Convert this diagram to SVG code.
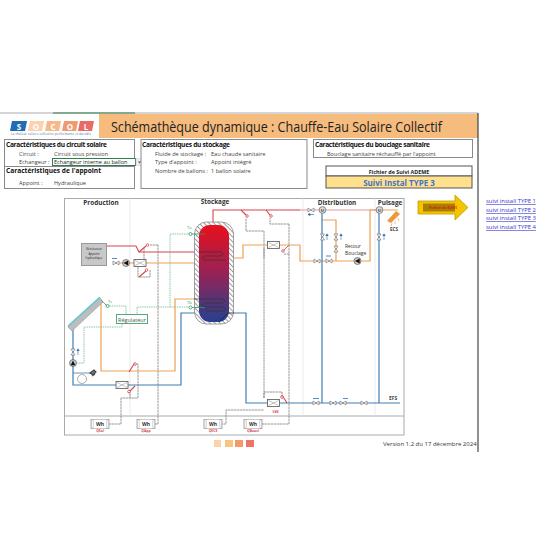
<svg xmlns="http://www.w3.org/2000/svg" width="550" height="560" viewBox="0 0 550 560">
<style>
text{font-family:"Open Sans","Liberation Sans",sans-serif;fill:#222}
.h{font-size:6.6px;font-weight:700;fill:#111}
.t{font-size:5.6px;fill:#444}
.sec{font-size:6.4px;font-weight:700;fill:#333;text-anchor:middle}
.box{fill:#fff;stroke:#8a8a8a;stroke-width:1}
.dash{fill:none;stroke:#808080;stroke-width:.8;stroke-dasharray:2.5 .5}
.sens{fill:none;stroke:#6cbd8d;stroke-width:.8;stroke-dasharray:1.5 .8}
.red{fill:none;stroke:#d9444f;stroke-width:1.1}
.pink{fill:none;stroke:#e39aa0;stroke-width:1.2}
.or{fill:none;stroke:#eba155;stroke-width:1.2}
.blue{fill:none;stroke:#3f7fb5;stroke-width:1.2}
.v{fill:#fff;stroke:#666;stroke-width:.6}
.rv{fill:#fff;stroke:#d9444f;stroke-width:.8}
.lab{font-size:3.4px;font-weight:700;fill:#d9444f;text-anchor:middle}
.wh{font-size:5px;font-weight:700;fill:#333;text-anchor:middle}
.link{font-size:5.9px;fill:#3333cc;text-decoration:underline}
.logo{font-size:8px;font-weight:700;text-anchor:middle;fill:#fff}
</style>
<defs>
<linearGradient id="tank" x1="0" y1="0" x2="0" y2="1"><stop offset="0" stop-color="#e8101c"/><stop offset=".45" stop-color="#a02050"/><stop offset="1" stop-color="#27408f"/></linearGradient>
<pattern id="hatch" width="3.500" height="3.500" patternUnits="userSpaceOnUse" patternTransform="rotate(-45)"><rect width="3.500" height="3.500" fill="#fff"/><rect width="1" height="3.500" fill="#999"/></pattern>
<g id="val"><path d="M-3-2 0 0-3 2ZM3-2 0 0 3 2Z" class="v"/></g>
<g id="hx"><rect x="-6" y="-3.500" width="12" height="7" fill="#fff" stroke="#555" stroke-width=".8"/><path d="M-5-2.500 5 2.500M-5 2.500 5-2.500" stroke="#888" stroke-width=".5" fill="none"/></g>
<g id="meter"><circle r="3.400" fill="#ddd" stroke="#666" stroke-width=".7"/><text y="1.600" font-size="4" text-anchor="middle" fill="#555">M</text></g>
<g id="pump"><circle r="3.500" fill="#ccc" stroke="#444" stroke-width=".6"/><path d="M2.200-2.400-2.600 0 2.200 2.400Z" fill="#111"/></g>
<g id="wh"><rect x="-9" y="-4.500" width="18" height="9" fill="#f1f1f1" stroke="#999" stroke-width=".8"/><rect x="-6.500" y="-4.500" width="13" height="9" fill="#fff" stroke="#bbb" stroke-width=".4"/><text class="wh" y="1.800">Wh</text></g>
<g id="arrowU"><path d="M0 3V-2M-1.300-1 0-3.200 1.300-1" fill="#2f6fb0" stroke="#2f6fb0" stroke-width=".6"/></g>
</defs>
<rect width="550" height="560" fill="#fff"/>

<g id="header">
<path d="M0 113H478" stroke="#aaa" stroke-width="1"/><path d="M53 113H135" stroke="#2e7d4f" stroke-width="1"/>
<rect x="99" y="114" width="379" height="24" fill="#f6bc7e"/>
<path d="M478 113V452" stroke="#222" stroke-width="1"/>
<g id="logo">
<path d="M12 121H27L25 131H10Z" fill="#1e6db5"/><path d="M30 121H44L42 131H28Z" fill="#fad2ae"/><path d="M47 121H61L59 131H45Z" fill="#f7b98a"/><path d="M64 121H78L76 131H62Z" fill="#f09a72"/><path d="M80 121H94L92 131H78Z" fill="#ea6a66"/>
<text class="logo" x="19" y="129.500">S</text><text class="logo" x="36" y="129.500">O</text><text class="logo" x="53" y="129.500">C</text><text class="logo" x="70" y="129.500">O</text><text class="logo" x="86" y="129.500">L</text>
<text x="11" y="134.500" font-size="2.800" textLength="80" style="fill:#3a5a9a">La chaleur solaire collective performante et durable</text>
</g>
<text x="111" y="132" font-size="14.500" textLength="331" lengthAdjust="spacingAndGlyphs">Schémathèque dynamique : Chauffe-Eau Solaire Collectif</text>
</g>

<g id="panel-solaire">
<rect class="box" x="4.500" y="139.500" width="130" height="27"/><rect class="box" x="4.500" y="166.500" width="130" height="22"/>
<text class="h" x="6" y="147" textLength="101">Caractéristiques du circuit solaire</text>
<text class="t" x="19" y="156">Circuit :</text><text class="t" x="54" y="156">Circuit sous pression</text>
<text class="t" x="19" y="164">Echangeur :</text>
<rect x="52.500" y="158.500" width="83" height="7" fill="#fff" stroke="#2e7d4f"/><rect x="136" y="158.500" width="7" height="7" fill="#eee" stroke="#ccc" stroke-width=".5"/><path d="M138 161.500h3l-1.500 2z" fill="#555"/>
<text class="t" x="54" y="164" style="fill:#222">Echangeur interne au ballon</text>
<text class="h" x="6" y="173">Caractéristiques de l'appoint</text>
<text class="t" x="19" y="185">Appoint :</text><text class="t" x="54" y="185">Hydraulique</text>
</g>
<g id="panel-stockage">
<rect class="box" x="141" y="139.500" width="166" height="49"/>
<text class="h" x="142" y="147" textLength="88">Caractéristiques du stockage</text>
<text class="t" x="155" y="156">Fluide de stockage :</text><text class="t" x="211" y="156">Eau chaude sanitaire</text>
<text class="t" x="155" y="164">Type d'appoint :</text><text class="t" x="211" y="164">Appoint intégré</text>
<text class="t" x="155" y="173">Nombre de ballons :</text><text class="t" x="211" y="173">1 ballon solaire</text>
</g>
<g id="panel-bouclage">
<rect class="box" x="313.500" y="139.500" width="159" height="18"/>
<text class="h" x="315" y="147" textLength="115">Caractéristiques du bouclage sanitaire</text>
<text class="t" x="327" y="156">Bouclage sanitaire réchauffé par l'appoint</text>
</g>
<g id="panel-ademe">
<rect x="326" y="166" width="146" height="10" fill="#fff" stroke="#555"/><rect x="326" y="176" width="146" height="12" fill="#ffe08f" stroke="#555"/>
<text x="399" y="174" font-size="5.400" font-weight="700" text-anchor="middle">Fichier de Suivi ADEME</text>
<text x="399" y="185.500" font-size="8" font-weight="700" text-anchor="middle" style="fill:#4472c4">Suivi Instal TYPE 3</text>
</g>
<g id="bouton-suivi">
<path d="M418 201H455V195L468 207.500 455 220V214H418Z" fill="#f5c400" stroke="#c49a00" stroke-width=".8"/><rect x="423" y="203.500" width="32" height="8" fill="#a88000"/>
<text x="443" y="209" font-size="3.600" font-weight="700" text-anchor="middle" style="fill:#e01010">Fichier de SUIVI</text>
</g>
<g id="liens">
<text class="link" x="486" y="203" style="fill:#3333cc">suivi install TYPE 1</text><text class="link" x="486" y="212" style="fill:#3333cc">suivi install TYPE 2</text><text class="link" x="486" y="220" style="fill:#3333cc">suivi install TYPE 3</text><text class="link" x="486" y="229" style="fill:#3333cc">suivi install TYPE 4</text>
</g>

<g id="cadre">
<rect x="64.500" y="198.500" width="339.500" height="236.500" fill="#fff" stroke="#aaa" stroke-width="1"/>
<path d="M64 416H404" stroke="#aaa" stroke-width="1"/>
<path d="M130 198V416M303 198V416M375 198V416" stroke="#ddd" stroke-width=".6" fill="none"/>
<text class="sec" x="101" y="205">Production</text><text class="sec" x="215" y="204">Stockage</text><text class="sec" x="337" y="205">Distribution</text><text class="sec" x="390" y="205">Puisage</text>
</g>

<g id="connecteurs">
<path class="dash" d="M158 245H150M158 245V424H155M121 398V424H108M221 424H226V410H264M264 398V231H246V218M289 224H270V218M289 224V424H262M264 398V392H282V398M150 270V277H138V266M130 391V398H121M134 364H138V398H130M144 248V260M264 248V258M289 254H284"/>
<path class="sens" d="M190 234H170V307H137V314M190 307H170M107 306H126V314M122 324V327H84V363H77"/>
<path class="or" d="M195 258H243V245H300V261H370V210H398M336 261V220H322"/>
<path class="or" d="M113 263H195"/>
<path class="or" d="M101 303V371H175V299H194"/>
<path class="blue" d="M73 328V385H181V313H246V403H400M322 210V403M379 210V403"/>
<path class="blue" d="M73 373H92" style="stroke-width:.8"/>
<path class="red" d="M213 224V210H300"/><path class="pink" d="M290 210H380"/><path class="red" d="M106 246H136L139 252H195"/>
<path class="red" d="M139 252 146 246M139 277 146 271M129 372 134 364M128 393 135 386M241 210 246 215M266 210 270 215M287 403 282 395"/>
</g>

<g id="panneau-solaire"><path d="M68 327 100 298 103 302 72 331Z" fill="#bdbdbd" stroke="#999" stroke-width=".6"/><path d="M68 326 100 297" stroke="#4fc9d6" stroke-width="1.200"/></g>
<g id="generateur"><rect x="81.500" y="243.500" width="25" height="22" fill="#c8c8c8" stroke="#999"/>
<text x="94" y="250" font-size="3" text-anchor="middle">Générateur</text><text x="94" y="254.500" font-size="3" text-anchor="middle">Appoint</text><text x="94" y="259" font-size="3" text-anchor="middle">hydraulique</text></g>
<g id="ballon">
<rect x="194.500" y="222" width="39" height="102" rx="12" fill="url(#hatch)" stroke="#888" stroke-width=".8"/>
<rect x="199" y="225" width="30" height="97" rx="11" fill="url(#tank)"/>
<path d="M199 252H221Q225 254 221 256H205Q200 258 205 260H226" fill="none" stroke="#333" stroke-width=".7"/>
<path d="M194 299H222Q228 301 222 303H205Q199 305 205 307H224Q228 309 224 311H206" fill="none" stroke="#333" stroke-width=".7"/>
<path d="M219 322 228 313H234" fill="none" stroke="#222" stroke-width=".8"/>
</g>
<g id="regulateur"><rect x="116.500" y="314.500" width="31" height="9" fill="#fff" stroke="#4fae76" stroke-width="1"/><text x="132" y="321.500" font-size="5.500" text-anchor="middle" style="fill:#555">Régulateur</text></g>

<g id="sondes">
<circle cx="190.500" cy="234" r="1.500" fill="#fff" stroke="#2e9e5f" stroke-width=".8"/><path d="M192 234H205" stroke="#2e9e5f" stroke-width=".8"/>
<circle cx="190.500" cy="307.500" r="1.500" fill="#fff" stroke="#2e9e5f" stroke-width=".8"/><path d="M192 307.500H205" stroke="#2e9e5f" stroke-width=".8"/>
<circle cx="107.500" cy="306" r="1.500" fill="#fff" stroke="#2e9e5f" stroke-width=".8"/><path d="M101 300 107 306" stroke="#2e9e5f" stroke-width=".8"/>
<text x="187" y="229" font-size="4" style="fill:#2e9e5f">Ta</text><text x="187" y="304" font-size="4" style="fill:#2e9e5f">Tb</text><text x="108" y="303" font-size="4" style="fill:#2e9e5f">Tc</text>
</g>

<g id="composants">
<use href="#val" x="116" y="263"/><use href="#pump" x="126" y="263"/><use href="#hx" x="140" y="263"/>
<circle class="rv" cx="147.500" cy="245" r="1.300"/><circle class="rv" cx="146.500" cy="270" r="1.300"/>
<path d="M112 258.500h5" stroke="#2f6fb0" stroke-width=".8"/>
<use href="#val" x="73" y="352" transform="rotate(90 73 352)"/><use href="#arrowU" x="78" y="352"/><use href="#pump" x="73" y="363" transform="rotate(90 73 363)"/>
<circle cx="82" cy="379" r="4.500" fill="#fff" stroke="#777" stroke-width=".6"/>
<path d="M90 373l4-3 2 2-3 3zM92 376l3-2" stroke="#444" stroke-width="1.200" fill="#777"/>
<use href="#hx" x="122" y="385"/>
<circle class="rv" cx="135" cy="364" r="1.300"/><circle class="rv" cx="129" cy="391.500" r="1.300"/>
<circle class="rv" cx="247" cy="216" r="1.300"/><circle class="rv" cx="271" cy="216" r="1.300"/>
<use href="#val" x="311" y="210"/><path d="M308 214.500H314M308 214.500l2-1v2z" stroke="#2f6fb0" stroke-width=".7" fill="#2f6fb0"/>
<use href="#meter" x="322.500" y="210"/><use href="#meter" x="379.500" y="210"/>
<use href="#hx" x="273.500" y="245"/><circle class="rv" cx="283" cy="251" r="1.300"/><path d="M284 250 289 245" stroke="#d9444f" stroke-width=".8"/>
<use href="#val" x="322.500" y="237" transform="rotate(90 322.500 237)"/><use href="#arrowU" x="327" y="237"/>
<use href="#val" x="336" y="237" transform="rotate(90 336 237)"/><use href="#arrowU" x="341" y="237"/>
<use href="#val" x="379" y="237" transform="rotate(90 379 237)"/><use href="#arrowU" x="384" y="237"/>
<use href="#val" x="336" y="249" transform="rotate(90 336 249)"/>
<use href="#val" x="317" y="261"/><use href="#val" x="329" y="261"/><path d="M326 256H331" stroke="#2f6fb0" stroke-width=".8"/>
<use href="#pump" x="357.500" y="261"/>
<use href="#hx" x="273.500" y="403"/><circle class="rv" cx="282" cy="397" r="1.300"/>
<use href="#val" x="316" y="403"/><use href="#val" x="333" y="403"/><use href="#val" x="343" y="403"/><use href="#val" x="364" y="403"/>
<path d="M313 398.500H319M343 398.500H348" stroke="#2f6fb0" stroke-width=".8"/>
<g id="pomme"><path d="M396 211 400 214 391 223 387 221Z" fill="#eb9a42"/><path d="M392 223l-1 3M395 221l0 3M398 218l1 3" stroke="#eb9a42" stroke-width=".6"/></g>
<text x="394" y="231" font-size="4.600" font-weight="700" text-anchor="middle" style="fill:#444">ECS</text>
<text x="345" y="248" font-size="5" style="fill:#333">Retour</text><text x="345" y="254.500" font-size="5" style="fill:#333">Bouclage</text>
<text x="389" y="400" font-size="5" font-weight="700" style="fill:#444">EFS</text>
<text class="lab" x="275.500" y="413">V4S</text>
</g>

<g id="compteur-qsol"><use href="#wh" x="100" y="424"/><text class="lab" x="100" y="431.500">QSol</text></g>
<g id="compteur-qapp"><use href="#wh" x="146" y="424"/><text class="lab" x="146" y="431.500">QApp</text></g>
<g id="compteur-qecs"><use href="#wh" x="213" y="424"/><text class="lab" x="213" y="431.500">QECS</text></g>
<g id="compteur-qboucl"><use href="#wh" x="253" y="424"/><text class="lab" x="253" y="431.500">QBoucl</text></g>

<g id="pied">
<rect x="214" y="440" width="7" height="7" fill="#fbd3a6"/><rect x="225" y="440" width="8" height="7" fill="#f9c384"/><rect x="235" y="440" width="8" height="7" fill="#f29a6c"/><rect x="246" y="440" width="8" height="7" fill="#ee7468"/>
<text x="383" y="446" font-size="6" style="fill:#333">Version 1.2 du 17 décembre 2024</text>
</g>
</svg>
